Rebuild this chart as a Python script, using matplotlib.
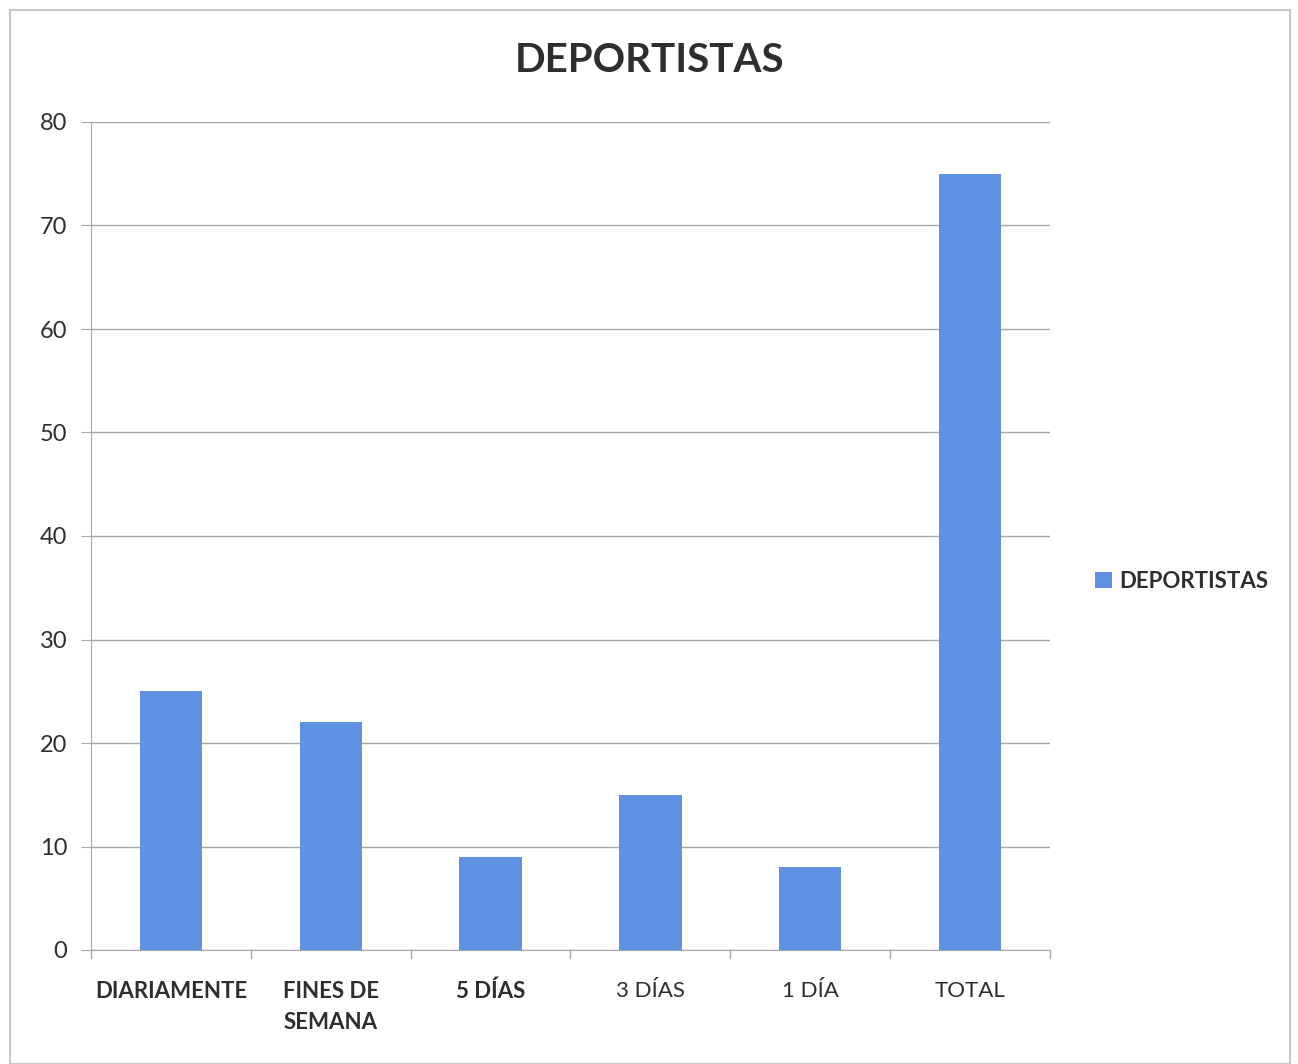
import numpy as np
import matplotlib
matplotlib.use("Agg")
import matplotlib.pyplot as plt
from matplotlib.patches import Rectangle

categories = ["DIARIAMENTE", "FINES DE\nSEMANA", "5 DÍAS", "3 DÍAS", "1 DÍA", "TOTAL"]
deportistas = [25, 22, 9, 15, 8, 75]
y_ticks = [0, 10, 20, 30, 40, 50, 60, 70, 80]

BAR_COLOR = "#5f92e3"
TEXT_COLOR = "#2e2e2e"
GRID_COLOR = "#a6a6b0"

plt.rcParams["font.family"] = ["Lato", "DejaVu Sans"]

fig = plt.figure(figsize=(12.98, 10.64), dpi=100)
fig.patch.set_facecolor("white")

# light frame around the whole chart
fig.patches.append(Rectangle((10 / 1298, 0.0), 1280 / 1298, 1 - 10 / 1064,
                             transform=fig.transFigure, fill=False,
                             edgecolor="#c8c8c8", linewidth=1.5))

ax = fig.add_axes([91 / 1298, 1 - 950 / 1064, (1050 - 91) / 1298, (950 - 122) / 1064])

x = np.arange(len(categories))
ax.bar(x, deportistas, width=0.39, color=BAR_COLOR, zorder=3, label="DEPORTISTAS")

ax.set_xlim(-0.5, len(categories) - 0.5)
ax.set_ylim(0, 80)
ax.set_yticks(y_ticks)
ax.set_yticklabels([str(v) for v in y_ticks], fontsize=17, color=TEXT_COLOR)
ax.yaxis.grid(True, color=GRID_COLOR, linewidth=1.0, zorder=0)

ax.set_xticks(x)
ax.set_xticklabels(categories, fontsize=16, color=TEXT_COLOR, linespacing=1.6)
ax.tick_params(axis="x", length=0, pad=22)
ax.tick_params(axis="y", length=7, color=GRID_COLOR, pad=10)
for lbl, w in zip(ax.get_xticklabels(), ["bold", "bold", "bold", "normal", "normal", "normal"]):
    lbl.set_fontweight(w)
    lbl.set_verticalalignment("top")

# category boundary ticks below the x axis
for b in np.arange(-0.5, len(categories), 1.0):
    ax.plot([b, b], [0, -0.8], color=GRID_COLOR, linewidth=1.0, clip_on=False, zorder=2)

for side in ["top", "right"]:
    ax.spines[side].set_visible(False)
ax.spines["left"].set_color(GRID_COLOR)
ax.spines["bottom"].set_color(GRID_COLOR)

fig.text(650 / 1298, 1 - 61 / 1064, "DEPORTISTAS", ha="center", va="center",
         fontsize=29, fontweight="bold", color=TEXT_COLOR)

fig.legend(loc="center left", bbox_to_anchor=(1075 / 1298, 1 - 581 / 1064),
           frameon=False, handlelength=0.75, handleheight=0.75,
           handletextpad=0.35, prop={"weight": "bold", "size": 16},
           labelcolor=TEXT_COLOR)

fig.savefig("out.png", dpi=100, facecolor="white")
